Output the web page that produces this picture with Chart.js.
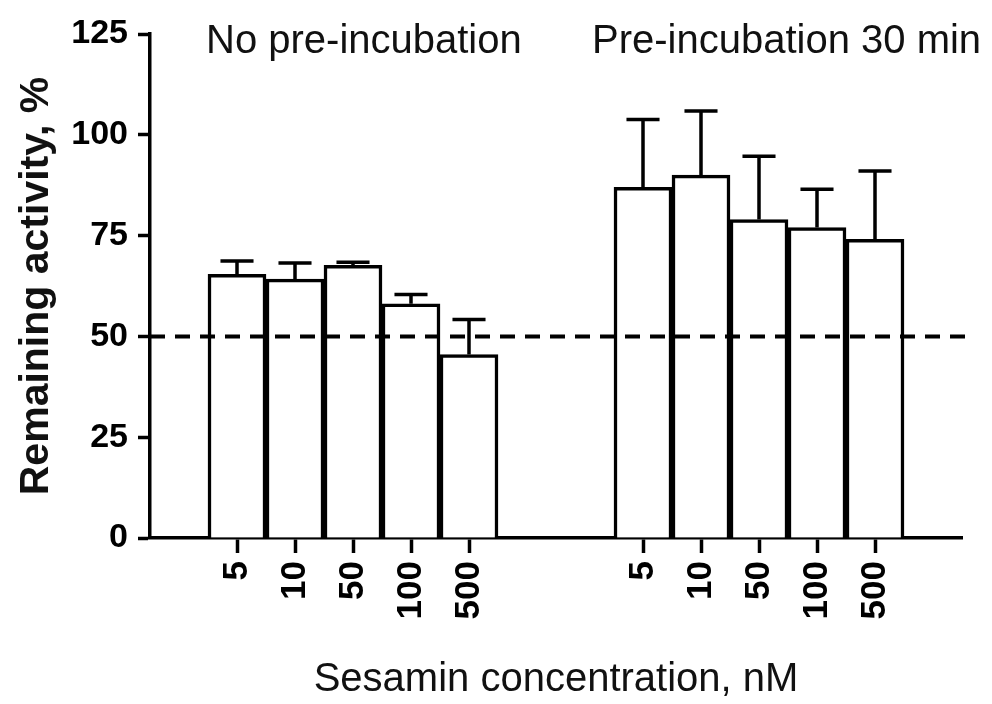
<!DOCTYPE html>
<html>
<head>
<meta charset="utf-8">
<script src="https://cdn.jsdelivr.net/npm/chart.js@4/dist/chart.umd.min.js"></script>
<style>
  html, body { margin: 0; padding: 0; background: #ffffff; }
  #wrap { width: 992px; height: 704px; }
</style>
</head>
<body>
<div id="wrap"><canvas id="c" width="992" height="704"></canvas></div>
<script>
// ---- data ----
const concentrations = ['5', '10', '50', '100', '500'];
const groupTitles = ['No pre-incubation', 'Pre-incubation 30 min'];
const noPreValues = [65.4, 64.2, 67.6, 58.1, 45.5];
const noPreErrors = [3.3, 4.0, 0.8, 2.3, 8.7];
const preValues = [87.0, 90.0, 79.0, 77.0, 74.1];
const preErrors = [16.8, 15.9, 15.7, 9.5, 16.9];
const yTicks = [0, 25, 50, 75, 100, 125];
const referenceLine = 50;
const yTitle = 'Remaining activity, %';
const xTitle = 'Sesamin concentration, nM';

// slots: blank, group 1, two blanks, group 2, blank
const labels = [''].concat(concentrations, ['', ''], concentrations, ['']);
const values = [null].concat(noPreValues, [null, null], preValues, [null]);
const errors = [null].concat(noPreErrors, [null, null], preErrors, [null]);

const FONT = "'Liberation Sans', Arial, Helvetica, sans-serif";
const INK = '#000000';

const overlay = {
  id: 'overlay',
  afterDatasetsDraw(chart) {
    const ctx = chart.ctx;
    const y = chart.scales.y;
    const meta = chart.getDatasetMeta(0);
    const area = chart.chartArea;
    ctx.save();
    // error bars (upper only)
    ctx.strokeStyle = INK;
    ctx.lineWidth = 3.5;
    ctx.lineCap = 'butt';
    meta.data.forEach((bar, i) => {
      const v = values[i];
      if (v === null || v === undefined) return;
      const base = y.getPixelForValue(v);
      const top = y.getPixelForValue(v + errors[i]);
      const half = bar.width * 0.285;
      ctx.beginPath();
      ctx.moveTo(bar.x, base);
      ctx.lineTo(bar.x, top);
      ctx.moveTo(bar.x - half, top);
      ctx.lineTo(bar.x + half, top);
      ctx.stroke();
    });
    // dashed 50% line
    const yRef = y.getPixelForValue(referenceLine);
    ctx.setLineDash([15, 10]);
    ctx.lineWidth = 4;
    ctx.beginPath();
    ctx.moveTo(area.left, yRef);
    ctx.lineTo(area.right + 7, yRef);
    ctx.stroke();
    ctx.setLineDash([]);
    // group headers
    ctx.fillStyle = '#111111';
    ctx.font = 'normal 40px ' + FONT;
    ctx.textAlign = 'left';
    ctx.textBaseline = 'alphabetic';
    const x = chart.scales.x;
    const w = x.getPixelForValue(1) - x.getPixelForValue(0);
    ctx.fillText(groupTitles[0], x.getPixelForValue(1) - w / 2 - 2, 53);
    ctx.fillText(groupTitles[1], x.getPixelForValue(8) - w / 2 - 22, 53);
    ctx.restore();
  }
};

new Chart(document.getElementById('c'), {
  type: 'bar',
  data: {
    labels: labels,
    datasets: [{
      data: values,
      backgroundColor: '#ffffff',
      borderColor: INK,
      borderWidth: 3.5,
      barPercentage: 1.0,
      categoryPercentage: 1.0
    }]
  },
  options: {
    responsive: false,
    animation: false,
    devicePixelRatio: 1,
    layout: { padding: { top: 34, right: 30, left: 0, bottom: 0 } },
    plugins: { legend: { display: false }, tooltip: { enabled: false } },
    scales: {
      x: {
        offset: true,
        grid: {
          offset: false,
          drawOnChartArea: false,
          tickLength: 15,
          tickWidth: 3.5,
          tickColor: (c) => (c.tick && c.tick.label) ? INK : 'rgba(0,0,0,0)'
        },
        border: { color: INK, width: 3.5 },
        ticks: {
          autoSkip: false,
          minRotation: 90,
          maxRotation: 90,
          padding: 8,
          color: INK,
          font: { family: FONT, size: 35, weight: 'bold' }
        },
        title: {
          display: true,
          text: xTitle,
          color: '#111111',
          font: { family: FONT, size: 40, weight: 'normal', lineHeight: 1 },
          padding: { top: 0, bottom: 4 }
        },
        afterFit: (s) => { s.height = 166; }
      },
      y: {
        min: 0,
        max: 125,
        afterBuildTicks: (s) => { s.ticks = yTicks.map(v => ({ value: v })); },
        grid: {
          drawOnChartArea: false,
          tickLength: 12,
          tickWidth: 3.5,
          tickColor: INK
        },
        border: { color: INK, width: 3.5 },
        ticks: {
          padding: 10,
          color: INK,
          font: { family: FONT, size: 34, weight: 'bold' }
        },
        title: {
          display: true,
          text: yTitle,
          color: '#111111',
          font: { family: FONT, size: 41, weight: 'bold', lineHeight: 1 },
          padding: { top: 16, bottom: 0 }
        },
        afterFit: (s) => { s.width = 150; }
      }
    }
  },
  plugins: [overlay]
});
</script>
</body>
</html>
